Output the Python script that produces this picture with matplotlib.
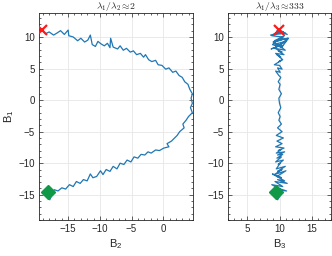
import numpy as np
import matplotlib
matplotlib.use("Agg")
import matplotlib.pyplot as plt
from matplotlib.ticker import MultipleLocator

plt.rcParams['font.family'] = ['Liberation Sans', 'DejaVu Sans']
plt.rcParams['mathtext.fontset'] = 'cm'

# trajectory (B1 shared by both panels)
B1 = [11.1, 10.5, 10.8, 10.3, 10.6, 11.0, 10.4, 11.1, 10.2, 10.0,
      9.4, 9.8, 9.2, 9.5, 10.3, 8.8, 8.5, 9.3, 8.9, 8.6,
      9.0, 8.3, 9.8, 8.4, 8.1, 8.6, 7.9, 8.2, 7.6, 7.8,
      7.2, 7.4, 6.8, 7.2, 6.4, 6.1, 6.3, 5.6, 5.5, 4.9,
      5.1, 4.4, 4.6, 3.9, 3.6, 2.9, 2.5, 1.7, 1.0, 0.3,
      -0.5, -1.2, -2.0, -2.6, -3.2, -3.8, -4.4, -5.0, -5.6, -6.0,
      -6.5, -6.9, -7.4, -7.6, -8.0, -7.9, -8.4, -8.2, -8.7, -8.6,
      -9.2, -9.0, -9.8, -9.5, -10.2, -10.0, -10.9, -10.5, -11.3, -11.0,
      -11.8, -11.2, -12.1, -12.3, -11.7, -12.8, -12.6, -13.2, -12.9, -13.7,
      -13.4, -14.1, -13.9, -14.4, -14.2, -15.0, -15.8, -14.6]
B2 = [-19.1, -18.6, -18.0, -17.3, -16.8, -16.2, -15.6, -15.0, -14.9, -14.2,
      -13.5, -13.0, -12.4, -11.9, -11.5, -11.2, -10.7, -10.3, -9.8, -9.3,
      -8.8, -8.4, -8.3, -7.9, -7.2, -6.8, -6.3, -5.8, -5.2, -4.7,
      -4.2, -3.6, -3.1, -2.8, -2.3, -1.8, -1.2, -0.8, -0.2, 0.4,
      0.9, 1.5, 2.0, 2.5, 3.0, 3.4, 3.9, 4.2, 4.6, 4.4,
      4.6, 4.3, 4.6, 4.0, 3.6, 3.1, 3.3, 2.6, 2.2, 1.8,
      1.3, 0.6, 0.9, 0.1, -0.6, -1.2, -1.9, -2.4, -2.9, -3.5,
      -4.0, -4.6, -5.1, -5.7, -6.2, -6.8, -7.3, -7.9, -8.4, -9.0,
      -9.5, -9.9, -10.5, -11.1, -11.5, -12.0, -12.6, -13.1, -13.7, -14.2,
      -14.8, -15.4, -16.0, -16.6, -17.2, -17.6, -17.9, -18.2]
B3 = [9.9, 9.3, 10.6, 8.6, 10.9, 9.6, 11.2, 10.1, 8.8, 10.4,
      9.2, 11.3, 9.0, 10.2, 10.8, 8.9, 9.7, 11.0, 9.4, 10.5,
      9.1, 10.3, 11.4, 9.5, 8.7, 10.0, 10.9, 9.3, 10.4, 9.8,
      10.7, 9.4, 10.2, 9.6, 10.5, 9.9, 10.3, 9.2, 10.0, 10.4,
      9.7, 10.1, 9.4, 9.9, 10.2, 9.8, 10.1, 9.9, 10.3, 9.9,
      10.0, 10.2, 9.8, 10.1, 9.9, 10.3, 9.7, 10.4, 9.5, 10.6,
      9.6, 10.4, 9.4, 10.7, 9.8, 10.2, 9.5, 10.8, 9.7, 10.5,
      9.6, 10.3, 9.4, 10.6, 9.8, 10.1, 9.5, 10.9, 9.7, 10.4,
      9.2, 11.0, 9.6, 10.3, 8.9, 10.8, 9.7, 11.2, 9.3, 10.5,
      8.8, 10.1, 9.6, 11.1, 9.4, 10.2, 9.7, 9.4]

titles = [r'$\lambda_1/\lambda_2 \approx\!2$', r'$\lambda_1/\lambda_3 \approx\!333$']
xlabels = [r'$\mathregular{B_2}$', r'$\mathregular{B_3}$']

fig = plt.figure(figsize=(3.32, 2.56), dpi=100)
ax1 = fig.add_axes([39/332, 36/256, 154/332, 207/256])
ax2 = fig.add_axes([228/332, 36/256, 103/332, 207/256])

col = '#1f77b4'
gr = '#262626'
for ax, xs, t, xl in [(ax1, B2, titles[0], xlabels[0]), (ax2, B3, titles[1], xlabels[1])]:
    ax.plot(xs, B1, color=col, lw=0.9, zorder=2)
    ax.plot(xs[0], B1[0], 'x', color='#FF1A1A', ms=7, mew=1.6, zorder=3)
    ax.plot(xs[-1], B1[-1], 'D', color='#109A48', ms=7.5, zorder=3)
    ax.set_title(t, fontsize=7, pad=1.5, color='#222222')
    ax.set_xlabel(xl, fontsize=8, color=gr, labelpad=2)
    ax.set_ylim(-19, 13.8)
    ax.yaxis.set_major_locator(MultipleLocator(5))
    ax.xaxis.set_major_locator(MultipleLocator(5))
    ax.xaxis.set_minor_locator(MultipleLocator(1))
    ax.yaxis.set_minor_locator(MultipleLocator(1))
    ax.tick_params(which='both', direction='in', top=True, right=True,
                   colors=gr, labelsize=7, width=0.5)
    ax.tick_params(which='major', length=3, pad=3)
    ax.tick_params(which='minor', length=1.5)
    ax.grid(True, which='major', color='#e6e6e6', lw=0.6, zorder=0)
    ax.set_axisbelow(True)
    for s in ax.spines.values():
        s.set_linewidth(0.6)
        s.set_color(gr)

ax1.set_xlim(-19.6, 4.7)
ax1.set_ylabel(r'$\mathregular{B_1}$', fontsize=8, color=gr, labelpad=2)
ax2.set_xlim(2, 18)

fig.savefig('out.png', dpi=100)
